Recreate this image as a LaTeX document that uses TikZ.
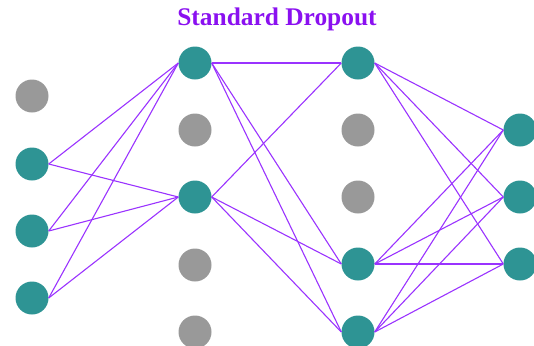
\documentclass[tikz,border=0pt]{standalone}
\usepackage{fontspec}
\setmainfont{Liberation Serif}

\definecolor{keptteal}{HTML}{2E9494}
\definecolor{dropgray}{HTML}{999999}
\definecolor{linkviolet}{HTML}{9A33FF}
\definecolor{titleviolet}{HTML}{8A10F0}

\begin{document}
\begin{tikzpicture}[x=1bp, y=-1bp,
    unit/.style={circle, minimum size=33bp, inner sep=0pt},
    kept/.style={unit, fill=keptteal},
    dropped/.style={unit, fill=dropgray},
    link/.style={draw=linkviolet, line width=1.1bp}]

        \useasboundingbox (0,0) rectangle (534,345);

        % Title
        \node[font=\bfseries\fontsize{25.5}{28}\selectfont, text=titleviolet] (title) at (277,19) {Standard Dropout};

        % Input layer
        \node[dropped] (A0) at (32,96) {};
        \foreach \i/\y in {1/164, 2/231, 3/298} {
            \node[kept] (A\i) at (32,\y) {};
        }

        % First hidden layer
        \node[kept]    (B0) at (195,63) {};
        \node[dropped] (B1) at (195,130) {};
        \node[kept]    (B2) at (195,197) {};
        \node[dropped] (B3) at (195,265) {};
        \node[dropped] (B4) at (195,332) {};

        % Second hidden layer
        \node[kept]    (C0) at (358,63) {};
        \node[dropped] (C1) at (358,130) {};
        \node[dropped] (C2) at (358,197) {};
        \node[kept]    (C3) at (358,264) {};
        \node[kept]    (C4) at (358,332) {};

        % Output layer
        \foreach \i/\y in {0/130, 1/197, 2/264} {
            \node[kept] (D\i) at (520,\y) {};
        }

        % Links between the units that are kept
        \foreach \a in {1,2,3} {
            \foreach \b in {0,2} {
                \draw[link] (A\a.east) -- (B\b.west);
            }
        }
        \foreach \b in {0,2} {
            \foreach \c in {0,3,4} {
                \draw[link] (B\b.east) -- (C\c.west);
            }
        }
        \foreach \c in {0,3,4} {
            \foreach \d in {0,1,2} {
                \draw[link] (C\c.east) -- (D\d.west);
            }
        }

    \end{tikzpicture}
\end{document}
